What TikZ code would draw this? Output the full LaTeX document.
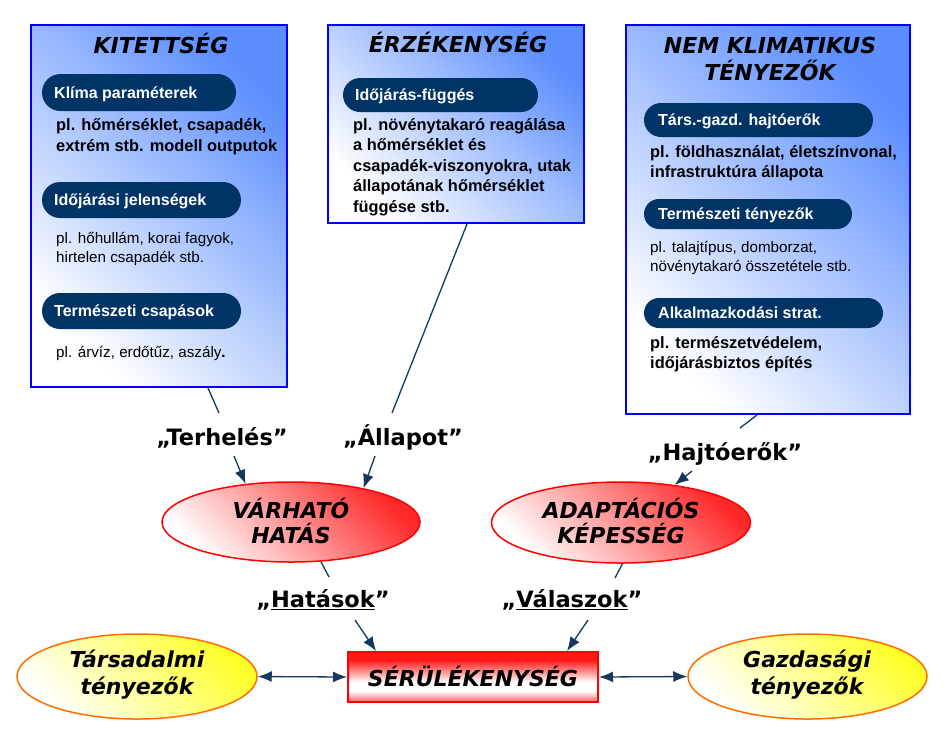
\documentclass[tikz,border=0pt]{standalone}
\usepackage{fontspec}
\setmainfont{Liberation Sans}
\newfontfamily\dvs{DejaVu Sans}
\usetikzlibrary{shapes.geometric,shapes.misc,arrows.meta,calc}
\definecolor{boxblue}{RGB}{92,142,255}
\definecolor{pillnavy}{RGB}{0,51,102}
\definecolor{linec}{RGB}{23,55,94}
\definecolor{ored}{RGB}{255,40,40}
\definecolor{oyel}{RGB}{255,255,40}
\definecolor{oorg}{RGB}{255,110,0}
\definecolor{srlbot}{RGB}{255,95,95}
\definecolor{srltop}{RGB}{255,25,25}
\pgfdeclareverticalshading{srlshade}{100bp}{color(0bp)=(srlbot); color(25bp)=(srlbot); color(36bp)=(white); color(45bp)=(white); color(67bp)=(srltop); color(100bp)=(srltop)}
\begin{document}
\begin{tikzpicture}[x=1pt,y=-1pt,
  bluebox/.style={draw={rgb,255:red,0;green,0;blue,255}, line width=2pt, top color=boxblue, bottom color=white, shading angle=-45, inner sep=0},
  ttl/.style={font=\dvs\bfseries\itshape\fontsize{22}{26}\selectfont, anchor=base, inner sep=0},
  pill/.style={rounded rectangle, fill=pillnavy, draw=none, inner sep=0},
  pilltxt/.style={font=\bfseries\fontsize{16}{18}\selectfont, text=white, anchor=base west, inner sep=0},
  bbody/.style={font=\bfseries\fontsize{16.4}{19}\selectfont, anchor=base west, inner sep=0},
  nbody/.style={font=\fontsize{15.2}{18}\selectfont, anchor=base west, inner sep=0},
  lbl/.style={font=\dvs\bfseries\fontsize{22.5}{26}\selectfont, anchor=base, inner sep=0},
  redell/.style={ellipse, draw=red, line width=1.5pt, top color=ored, bottom color=white, shading angle=-45, inner sep=0},
  yelell/.style={ellipse, draw=oorg, line width=1.5pt, top color=oyel, bottom color=white, shading angle=-45, inner sep=0},
  redbox/.style={draw=red, line width=2pt, shading=srlshade, inner sep=0},
  elt/.style={font=\dvs\bfseries\itshape\fontsize{22}{26}\selectfont, anchor=base, inner sep=0},
  conn/.style={draw=linec, line width=1.3pt},
  arr/.style={conn, -{Latex[length=14pt,width=11pt]}},
  darr/.style={conn, {Latex[length=14pt,width=11pt]}-{Latex[length=14pt,width=11pt]}}
]
\useasboundingbox (0,0) rectangle (952,732);

% ---- boxes
\node[bluebox, minimum width=256, minimum height=362] (kit) at (159,206) {};
\node[bluebox, minimum width=256, minimum height=198] (erz) at (456,124) {};
\node[bluebox, minimum width=284, minimum height=389] (nem) at (768,219.5) {};

\node[ttl] (kitT) at (161,53) {KITETTSÉG};
\node[ttl] (erzT) at (458,52) {ÉRZÉKENYSÉG};
\node[ttl] (nemT1) at (770,53) {NEM KLIMATIKUS};
\node[ttl] (nemT2) at (770,80) {TÉNYEZŐK};

% ---- left box content
\node[pill, minimum width=194, minimum height=37] (p1) at (139,92.5) {};
\node[pilltxt] (p1t) at (54,98) {Klíma paraméterek};
\node[bbody] (k1) at (56,130) {pl. hőmérséklet, csapadék,};
\node[bbody] (k2) at (56,151) {extrém stb. modell outputok};
\node[pill, minimum width=199, minimum height=36] (p2) at (141.5,200) {};
\node[pilltxt] (p2t) at (54,205.5) {Időjárási jelenségek};
\node[nbody] (k3) at (56,243) {pl. hőhullám, korai fagyok,};
\node[nbody] (k4) at (56,262) {hirtelen csapadék stb.};
\node[pill, minimum width=199, minimum height=36] (p3) at (141.5,311) {};
\node[pilltxt] (p3t) at (54,316.5) {Természeti csapások};
\node[nbody] (k5) at (56,357) {pl. árvíz, erdőtűz, aszály\textbf{.}};

% ---- middle box content
\node[pill, minimum width=195, minimum height=34] (p4) at (440.5,95) {};
\node[pilltxt] (p4t) at (355,100.5) {Időjárás-függés};
\node[bbody] (e1) at (353,130) {pl. növénytakaró reagálása};
\node[bbody] (e2) at (353,150.5) {a hőmérséklet és};
\node[bbody] (e3) at (353,171) {csapadék-viszonyokra, utak};
\node[bbody] (e4) at (353,191.5) {állapotának hőmérséklet};
\node[bbody] (e5) at (353,212) {függése stb.};

% ---- right box content
\node[pill, minimum width=229, minimum height=34] (p5) at (758.5,120) {};
\node[pilltxt] (p5t) at (658,125.5) {Társ.-gazd. hajtóerők};
\node[bbody] (n1) at (650,157) {pl. földhasználat, életszínvonal,};
\node[bbody] (n2) at (650,177) {infrastruktúra állapota};
\node[pill, minimum width=208, minimum height=30] (p6) at (748,214) {};
\node[pilltxt] (p6t) at (658,219.5) {Természeti tényezők};
\node[nbody] (n3) at (650,252) {pl. talajtípus, domborzat,};
\node[nbody] (n4) at (650,271) {növénytakaró összetétele stb.};
\node[pill, minimum width=239, minimum height=30] (p7) at (763.5,313) {};
\node[pilltxt] (p7t) at (658,318.5) {Alkalmazkodási strat.};
\node[bbody] (n5) at (650,348) {pl. természetvédelem,};
\node[bbody] (n6) at (650,368) {időjárásbiztos építés};

% ---- labels
\node[lbl] (terh) at (222,445) {„Terhelés”};
\node[lbl] (allap) at (403,445) {„Állapot”};
\node[lbl] (hajt) at (725,460) {„Hajtóerők”};
\node[lbl] (hatas) at (323,607) {„\underline{Hatások}”};
\node[lbl] (valasz) at (572,607) {„\underline{Válaszok}”};

% ---- ellipses and box
\node[redell, minimum width=258, minimum height=80] (varh) at (291,522) {};
\node[elt] (varh1) at (291,518) {VÁRHATÓ};
\node[elt] (varh2) at (291,543) {HATÁS};
\node[redell, minimum width=259, minimum height=81] (adap) at (621,522.5) {};
\node[elt] (adap1) at (621,518) {ADAPTÁCIÓS};
\node[elt] (adap2) at (621,543) {KÉPESSÉG};
\node[redbox, minimum width=250, minimum height=50] (srl) at (473,677) {};
\node[elt] (srlt) at (473,686) {SÉRÜLÉKENYSÉG};
\node[yelell, minimum width=240, minimum height=85] (tars) at (137,676.5) {};
\node[elt] (tars1) at (137,667) {Társadalmi};
\node[elt] (tars2) at (137,694) {tényezők};
\node[yelell, minimum width=239, minimum height=85] (gazd) at (807.5,676.5) {};
\node[elt] (gazd1) at (807,667) {Gazdasági};
\node[elt] (gazd2) at (807,694) {tényezők};

% ---- connectors
\coordinate (l1e) at (219,413);
\draw[conn] (208,0 |- kit.south) -- (l1e);
\coordinate (l2e) at (392,413);
\draw[conn] (467,0 |- erz.south) -- (l2e);
\coordinate (l3e) at (740,428);
\draw[conn] (757,0 |- nem.south) -- (l3e);

\coordinate (a1s) at (234,456);
\draw[arr] (a1s) -- (varh.140);
\coordinate (a2s) at (375,456);
\draw[arr] (a2s) -- (varh.25);
\coordinate (a3s) at (692,471);
\draw[arr] (a3s) -- (adap.35);

\coordinate (l4e) at (329,577);
\draw[conn] (varh.-53) -- (l4e);
\coordinate (a4s) at (355,620);
\draw[arr] (a4s) -- (376,0 |- srl.north);
\coordinate (l5e) at (615,578);
\draw[conn] (adap.-88) -- (l5e);
\coordinate (a5s) at (588,620);
\draw[arr] (a5s) -- (567,0 |- srl.north);

\draw[darr] (tars.east) -- (srl.west);
\draw[darr] (srl.east) -- (gazd.west);
\end{tikzpicture}
\end{document}
